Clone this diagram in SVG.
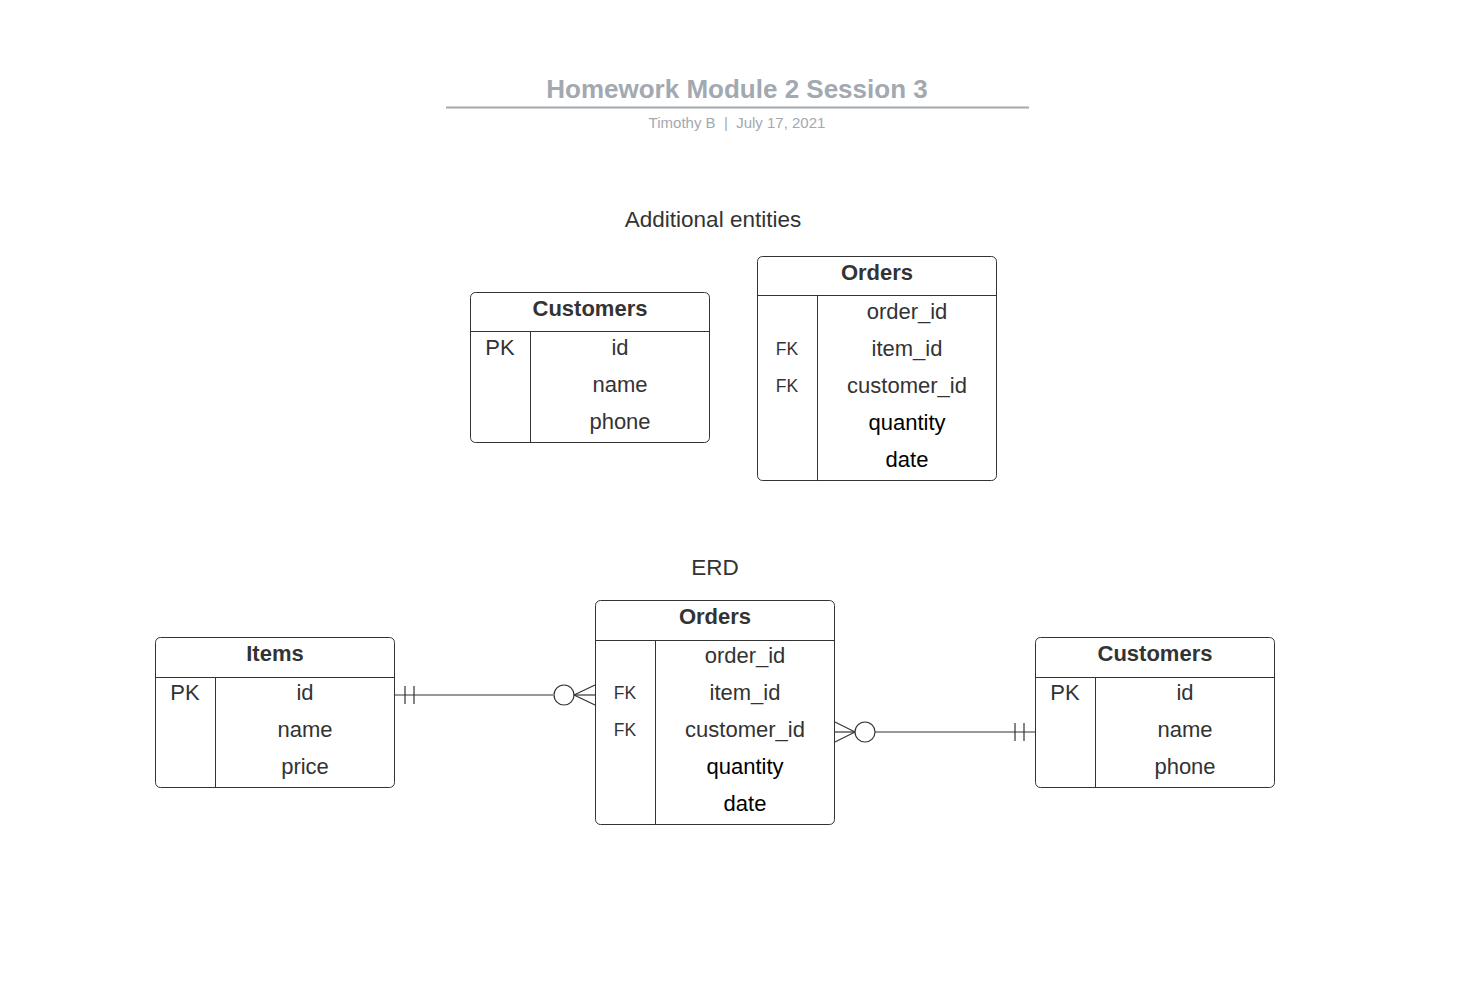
<svg xmlns="http://www.w3.org/2000/svg" width="1461" height="993" viewBox="0 0 1461 993">
<style>
text{font-family:"Liberation Sans",Arial,sans-serif;fill:#333}
.hdr{font-size:22px;font-weight:bold;text-anchor:middle}
.row{font-size:22px;text-anchor:middle}
.blk{fill:#000}
.key{font-size:22px;text-anchor:middle}
.fk{font-size:17.5px;text-anchor:middle}
.box{fill:#fff;stroke:#333;stroke-width:1}
.ln{stroke:#333;stroke-width:1;fill:none}
.cn{stroke:#333;stroke-width:1.2;fill:none}
</style>
<rect width="1461" height="993" fill="#fff"/>
<g id="title">
<text x="737" y="98" style="font-size:26px;font-weight:bold;fill:#a3a9b0;text-anchor:middle">Homework Module 2 Session 3</text>
<line x1="446" y1="107.5" x2="1029" y2="107.5" stroke="#a3a9ae" stroke-width="2"/>
<text x="737" y="128" xml:space="preserve" style="font-size:15px;fill:#a3a9b0;text-anchor:middle">Timothy B  |  July 17, 2021</text>
</g>
<g id="labels">
<text x="713" y="227" style="font-size:22.5px;text-anchor:middle">Additional entities</text>
<text x="715" y="575" style="font-size:22.5px;text-anchor:middle">ERD</text>
</g>
<g id="customers-top">
<rect class="box" x="470.5" y="292.5" width="239" height="150" rx="5"/>
<line class="ln" x1="470.5" y1="331.5" x2="709.5" y2="331.5"/>
<line class="ln" x1="530.5" y1="331.5" x2="530.5" y2="442.5"/>
<text class="hdr" x="590" y="316">Customers</text>
<text class="key" x="500" y="355">PK</text>
<text class="row" x="620" y="355">id</text>
<text class="row" x="620" y="392">name</text>
<text class="row" x="620" y="429">phone</text>
</g>
<g id="orders-top">
<rect class="box" x="757.5" y="256.5" width="239" height="224" rx="5"/>
<line class="ln" x1="757.5" y1="295.5" x2="996.5" y2="295.5"/>
<line class="ln" x1="817.5" y1="295.5" x2="817.5" y2="480.5"/>
<text class="hdr" x="877" y="280">Orders</text>
<text class="row" x="907" y="319">order_id</text>
<text class="fk" x="787" y="355">FK</text>
<text class="row" x="907" y="356">item_id</text>
<text class="fk" x="787" y="392">FK</text>
<text class="row" x="907" y="393">customer_id</text>
<text class="row blk" x="907" y="430">quantity</text>
<text class="row blk" x="907" y="467">date</text>
</g>
<g id="items">
<rect class="box" x="155.5" y="637.5" width="239" height="150" rx="5"/>
<line class="ln" x1="155.5" y1="677.5" x2="394.5" y2="677.5"/>
<line class="ln" x1="215.5" y1="677.5" x2="215.5" y2="787.5"/>
<text class="hdr" x="275" y="661">Items</text>
<text class="key" x="185" y="700">PK</text>
<text class="row" x="305" y="700">id</text>
<text class="row" x="305" y="737">name</text>
<text class="row" x="305" y="774">price</text>
</g>
<g id="orders">
<rect class="box" x="595.5" y="600.5" width="239" height="224" rx="5"/>
<line class="ln" x1="595.5" y1="640.5" x2="834.5" y2="640.5"/>
<line class="ln" x1="655.5" y1="640.5" x2="655.5" y2="824.5"/>
<text class="hdr" x="715" y="624">Orders</text>
<text class="row" x="745" y="663">order_id</text>
<text class="fk" x="625" y="699">FK</text>
<text class="row" x="745" y="700">item_id</text>
<text class="fk" x="625" y="736">FK</text>
<text class="row" x="745" y="737">customer_id</text>
<text class="row blk" x="745" y="774">quantity</text>
<text class="row blk" x="745" y="811">date</text>
</g>
<g id="customers">
<rect class="box" x="1035.5" y="637.5" width="239" height="150" rx="5"/>
<line class="ln" x1="1035.5" y1="677.5" x2="1274.5" y2="677.5"/>
<line class="ln" x1="1095.5" y1="677.5" x2="1095.5" y2="787.5"/>
<text class="hdr" x="1155" y="661">Customers</text>
<text class="key" x="1065" y="700">PK</text>
<text class="row" x="1185" y="700">id</text>
<text class="row" x="1185" y="737">name</text>
<text class="row" x="1185" y="774">phone</text>
</g>
<g id="connectors">
<line class="cn" x1="395" y1="695" x2="553" y2="695"/>
<line class="cn" x1="405" y1="686" x2="405" y2="704"/>
<line class="cn" x1="414" y1="686" x2="414" y2="704"/>
<circle class="cn" cx="564" cy="695" r="10"/>
<line class="cn" x1="574" y1="695" x2="595" y2="695"/>
<line class="cn" x1="574" y1="695" x2="595" y2="685"/>
<line class="cn" x1="574" y1="695" x2="595" y2="705"/>
<line class="cn" x1="835" y1="732" x2="855" y2="732"/>
<line class="cn" x1="835" y1="722" x2="855" y2="732"/>
<line class="cn" x1="835" y1="742" x2="855" y2="732"/>
<circle class="cn" cx="865" cy="732" r="10"/>
<line class="cn" x1="875" y1="732" x2="1035" y2="732"/>
<line class="cn" x1="1015" y1="723" x2="1015" y2="741"/>
<line class="cn" x1="1024" y1="723" x2="1024" y2="741"/>
</g>
</svg>
